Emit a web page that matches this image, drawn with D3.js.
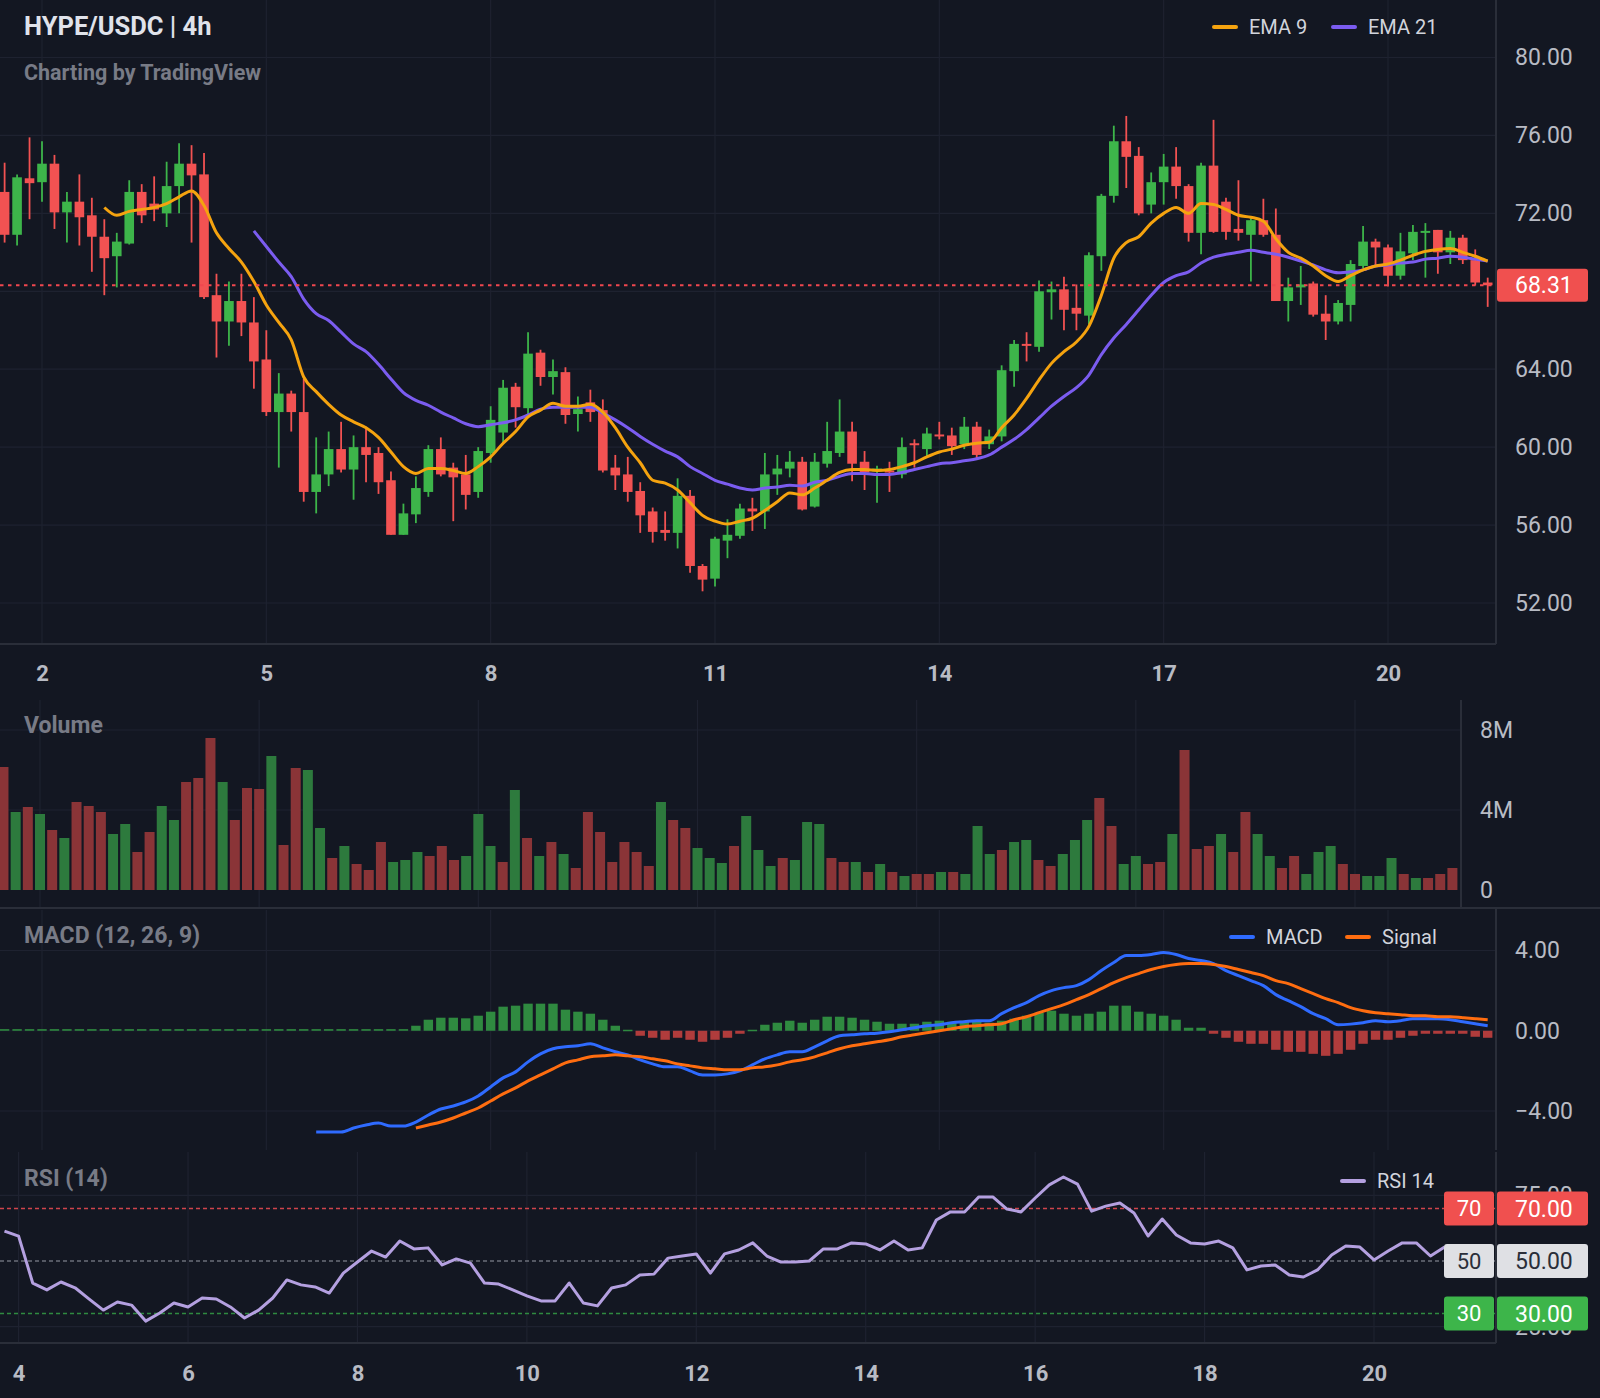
<!DOCTYPE html>
<html>
<head>
<meta charset="utf-8">
<script src="https://cdn.jsdelivr.net/npm/d3@7"></script>
<style>
    html, body { margin: 0; padding: 0; background: #131722; }
    svg { display: block; }
    text { font-family: Roboto, "Liberation Sans", sans-serif; }
</style>
</head>
<body>
<div id="chart"></div>
<script>
// ---- candles (4h), index 0 = day 1 12:00 ----
const priceOpen = [
    73.1, 70.9, 73.8, 73.6, 74.55, 72.05, 72.6, 71.9, 70.8, 69.8, 70.45, 73.1, 72.5,
    72.0, 73.4, 74.55, 74.0, 67.8, 66.45, 67.5, 66.4, 64.5, 61.8,
    62.75, 61.8, 57.7, 58.6, 59.9, 58.85, 60.0, 59.7, 58.3, 55.5,
    56.55, 57.7, 59.9, 58.95, 58.6, 57.7, 59.7, 60.75, 63.1, 62.0,
    64.85, 63.6, 63.85, 61.7, 62.3, 61.9, 58.95, 58.6, 57.75, 56.7,
    55.75, 55.6, 57.5, 53.9, 53.25, 55.2, 55.45, 56.85, 56.7, 58.6,
    58.9, 59.25, 56.95, 59.15, 59.7, 60.8, 59.25, 58.75, 58.8, 58.6,
    60.2, 59.9, 60.65, 60.6, 60.15, 61.05, 60.15, 60.55, 63.9, 65.3,
    65.15, 67.95, 68.1, 67.15, 66.75, 69.8, 72.9, 75.7, 74.95, 72.45,
    73.6, 74.4, 73.4, 71.0, 74.45, 72.6, 71.2, 70.9, 71.65, 70.9,
    67.5, 68.2, 68.4, 66.85, 66.45, 67.3, 69.3, 70.55, 70.25, 68.8,
    69.95, 71.0, 71.15, 70.0, 70.75, 69.6, 68.45
];
const priceHigh = [
    74.6, 74.0, 75.9, 75.7, 75.0, 73.1, 74.0, 72.8, 71.7, 71.0, 73.7, 73.5, 73.9,
    74.65, 75.6, 75.5, 75.1, 68.9, 68.5, 68.9, 67.7, 66.0, 63.8,
    62.9, 63.5, 60.5, 60.8, 61.3, 60.6, 61.05, 60.0, 58.75, 57.1,
    58.5, 60.1, 60.5, 59.2, 59.6, 60.0, 62.1, 63.45, 63.3, 65.9,
    65.0, 64.5, 64.1, 62.6, 62.95, 62.45, 59.6, 59.5, 58.2, 56.9,
    56.7, 58.4, 57.8, 54.0, 55.4, 56.3, 57.1, 57.4, 59.7, 59.6,
    59.8, 59.5, 59.7, 61.3, 62.45, 61.3, 59.8, 59.05, 59.25, 60.5,
    60.4, 61.0, 61.3, 61.0, 61.55, 61.3, 60.9, 64.2, 65.5, 65.9,
    68.55, 68.5, 68.75, 68.35, 70.0, 73.0, 76.5, 77.0, 75.4, 74.1,
    75.05, 75.4, 73.5, 74.6, 76.8, 72.8, 73.7, 71.75, 72.75, 72.25,
    68.7, 69.3, 68.5, 67.8, 67.55, 69.6, 71.35, 70.7, 70.4, 71.0,
    71.4, 71.5, 71.15, 71.1, 70.9, 70.15, 68.7
];
const priceLow = [
    70.5, 70.35, 71.7, 72.6, 71.2, 70.5, 70.35, 69.0, 67.8, 68.2, 70.4, 71.5, 71.6,
    71.3, 72.0, 70.5, 67.6, 64.6, 65.2, 65.7, 63.0, 61.6, 58.95,
    60.8, 57.2, 56.6, 58.0, 58.7, 57.3, 58.2, 57.6, 55.5, 55.5,
    56.1, 57.45, 58.5, 56.2, 56.8, 57.4, 59.2, 60.2, 61.0, 61.65,
    63.15, 62.7, 61.2, 60.8, 61.3, 58.7, 57.8, 57.2, 55.6, 55.1,
    55.2, 54.8, 53.55, 52.6, 52.85, 54.3, 55.3, 55.7, 55.8, 57.55,
    58.45, 56.75, 56.9, 58.95, 59.5, 58.25, 57.8, 57.15, 57.7, 58.4,
    58.95, 59.5, 60.4, 59.6, 59.9, 59.4, 59.9, 60.3, 63.1, 64.4,
    64.9, 66.55, 66.0, 66.0, 66.3, 69.05, 72.55, 73.3, 71.9, 72.0,
    72.45, 72.75, 70.55, 69.9, 71.0, 70.65, 70.6, 68.5, 70.8, 67.5,
    66.45, 67.3, 66.7, 65.5, 66.3, 66.45, 69.2, 69.3, 68.25, 68.6,
    69.6, 68.7, 68.9, 69.4, 69.4, 68.3, 67.2
];
const priceClose = [
    70.9, 73.85, 73.55, 74.55, 72.05, 72.6, 71.8, 70.8, 69.7, 70.55, 73.1, 71.9, 72.2,
    73.4, 74.55, 73.95, 67.7, 66.45, 67.5, 66.4, 64.4, 61.8, 62.75,
    61.8, 57.7, 58.6, 59.9, 58.85, 60.0, 59.6, 58.2, 55.5, 56.6,
    57.9, 59.9, 58.6, 58.45, 57.55, 59.8, 61.4, 63.05, 62.05, 64.8,
    63.6, 63.9, 61.65, 61.95, 61.8, 58.8, 58.55, 57.7, 56.5, 55.65,
    55.6, 57.5, 53.9, 53.2, 55.3, 55.5, 56.85, 56.7, 58.6, 58.9,
    59.25, 56.8, 59.25, 59.8, 60.8, 59.15, 58.7, 58.9, 58.7, 60.0,
    60.1, 60.7, 60.55, 60.05, 61.05, 59.6, 60.55, 63.95, 65.3, 65.2,
    68.0, 68.1, 67.05, 66.85, 69.85, 72.9, 75.7, 74.9, 72.0, 73.6,
    74.4, 73.4, 71.0, 74.45, 71.05, 71.05, 71.0, 71.65, 70.9, 67.5,
    68.2, 68.35, 66.8, 66.45, 67.4, 69.4, 70.55, 70.25, 68.8, 70.05,
    71.05, 71.1, 70.0, 70.75, 69.6, 68.45, 68.31
];
const lastPrice = 68.31;

// EMA 9 starts at candle 8, EMA 21 at candle 20
const ema9Start = 8;
const ema9 = [
    72.3, 71.9, 72.1, 72.2, 72.3,
    72.5, 72.85, 73.15, 72.4, 71.0, 70.2, 69.5, 68.5, 67.3, 66.4,
    65.5, 63.6, 62.85, 62.2, 61.65, 61.3, 61.0, 60.5, 59.75, 59.0,
    58.65, 58.9, 58.9, 58.8, 58.65, 59.0, 59.5, 60.2, 60.8, 61.55,
    61.9, 62.25, 62.1, 62.1, 62.2, 61.8, 61.0, 60.0, 59.2, 58.3,
    58.15, 57.8, 57.15, 56.5, 56.2, 56.05, 56.2, 56.35, 56.75, 57.2,
    57.65, 57.55, 57.9, 58.3, 58.7, 58.85, 58.85, 58.8, 58.85, 59.0,
    59.2, 59.5, 59.75, 59.9, 60.1, 60.2, 60.25, 61.0, 61.65, 62.5,
    63.45, 64.3, 64.9, 65.4, 66.2, 67.8, 69.7, 70.5, 70.8, 71.5,
    72.0, 72.3, 72.0, 72.5, 72.45, 72.2, 71.9, 71.8, 71.6, 70.7,
    70.0, 69.7, 69.3, 68.8, 68.5, 68.8, 69.1, 69.3, 69.4, 69.6,
    69.85, 70.05, 70.15, 70.2, 70.0, 69.8, 69.55
];
const ema21Start = 20;
const ema21 = [
    71.1, 70.3, 69.5,
    68.75, 67.6, 66.85, 66.5, 65.9, 65.3, 64.9, 64.25, 63.5, 62.8,
    62.4, 62.15, 61.8, 61.5, 61.2, 61.05, 61.15, 61.25, 61.4, 61.65,
    61.95, 62.05, 62.05, 62.05, 62.05, 61.75, 61.4, 61.0, 60.55, 60.15,
    59.8, 59.5, 59.0, 58.65, 58.3, 58.1, 57.9, 57.8, 57.9, 57.95,
    58.05, 58.0, 58.2, 58.3, 58.5, 58.65, 58.65, 58.6, 58.6, 58.7,
    58.85, 59.0, 59.15, 59.2, 59.3, 59.4, 59.6, 60.0, 60.4, 60.9,
    61.5, 62.1, 62.6, 63.05, 63.7, 64.75, 65.6, 66.3, 67.05, 67.8,
    68.45, 68.8, 69.0, 69.45, 69.75, 69.9, 70.0, 70.1, 70.0, 69.9,
    69.75, 69.55, 69.35, 69.1, 68.95, 69.0, 69.1, 69.3, 69.35, 69.45,
    69.5, 69.65, 69.7, 69.8, 69.75, 69.65, 69.55
];

// volume in millions, one per candle
const volumeM = [
    6.15, 3.9, 4.15, 3.8, 3.0, 2.6, 4.4, 4.2, 3.9, 2.8, 3.3, 1.9, 2.9,
    4.2, 3.5, 5.4, 5.6, 7.6, 5.4, 3.5, 5.1, 5.05, 6.7,
    2.25, 6.1, 6.0, 3.1, 1.6, 2.2, 1.3, 1.0, 2.4, 1.4,
    1.5, 1.9, 1.7, 2.2, 1.5, 1.7, 3.8, 2.2, 1.4, 5.0,
    2.6, 1.7, 2.4, 1.8, 1.1, 3.9, 2.9, 1.4, 2.4, 1.9,
    1.2, 4.4, 3.5, 3.1, 2.1, 1.6, 1.35, 2.2, 3.7, 2.0,
    1.2, 1.6, 1.5, 3.4, 3.3, 1.6, 1.4, 1.4, 0.9, 1.3,
    0.9, 0.7, 0.8, 0.8, 0.9, 0.9, 0.8, 3.2, 1.8, 2.0,
    2.4, 2.5, 1.5, 1.2, 1.8, 2.5, 3.5, 4.6, 3.2, 1.3,
    1.7, 1.3, 1.4, 2.8, 7.0, 2.05, 2.2, 2.8, 1.9, 3.9,
    2.8, 1.7, 1.1, 1.7, 0.8, 1.9, 2.2, 1.3, 0.8, 0.7,
    0.7, 1.6, 0.8, 0.6, 0.6, 0.8, 1.1
];

// MACD (12, 26, 9)
const macdStart = 25;
const macdLine = [
    -5.05, -5.05, -5.05, -4.85, -4.7, -4.6, -4.75, -4.75,
    -4.55, -4.2, -3.9, -3.75, -3.55, -3.25, -2.8, -2.35, -2.05, -1.55,
    -1.15, -0.9, -0.8, -0.75, -0.65, -0.85, -1.05, -1.2, -1.45, -1.65,
    -1.8, -1.8, -2.0, -2.2, -2.2, -2.15, -2.0, -1.7, -1.4, -1.2,
    -1.05, -1.05, -0.8, -0.5, -0.25, -0.2, -0.15, -0.12, -0.05, 0.05,
    0.15, 0.25, 0.3, 0.4, 0.45, 0.5, 0.5, 0.85, 1.15, 1.4,
    1.75, 2.0, 2.15, 2.25, 2.55, 3.0, 3.4, 3.75, 3.75, 3.8,
    3.9, 3.8, 3.6, 3.5, 3.35, 3.0, 2.75, 2.5, 2.25, 1.8,
    1.5, 1.2, 0.85, 0.6, 0.3, 0.33, 0.4, 0.5, 0.45, 0.5,
    0.6, 0.6, 0.6, 0.55, 0.45, 0.35, 0.25
];
const signalStart = 33;
const signalLine = [
    -4.85, -4.7, -4.55, -4.35, -4.1, -3.85, -3.5, -3.15, -2.85, -2.5,
    -2.2, -1.9, -1.6, -1.45, -1.3, -1.25, -1.2, -1.25, -1.3, -1.4,
    -1.5, -1.65, -1.75, -1.85, -1.9, -1.95, -1.95, -1.85, -1.8, -1.7,
    -1.55, -1.45, -1.3, -1.1, -0.9, -0.75, -0.65, -0.55, -0.45, -0.3,
    -0.2, -0.1, 0.0, 0.1, 0.2, 0.25, 0.3, 0.35, 0.55, 0.7,
    0.9, 1.1, 1.3, 1.55, 1.8, 2.1, 2.4, 2.65, 2.85, 3.05,
    3.2, 3.3, 3.35, 3.35, 3.3, 3.2, 3.05, 2.9, 2.75, 2.5,
    2.35, 2.1, 1.85, 1.6, 1.4, 1.15, 1.0, 0.9, 0.85, 0.8,
    0.75, 0.75, 0.7, 0.7, 0.65, 0.6, 0.55
];
const macdHist = [
    0.08, 0.08, 0.08, 0.08, 0.08, 0.08, 0.08, 0.08, 0.08, 0.08, 0.08,
    0.08, 0.08, 0.08, 0.08, 0.08, 0.08, 0.08, 0.08, 0.08, 0.08, 0.08,
    0.08, 0.08, 0.08, 0.08, 0.08, 0.08, 0.08, 0.08, 0.08, 0.08, 0.08,
    0.25, 0.55, 0.65, 0.65, 0.62, 0.75, 0.95, 1.2, 1.25, 1.35,
    1.35, 1.35, 1.05, 0.95, 0.85, 0.55, 0.25, 0.05, -0.25, -0.35,
    -0.45, -0.35, -0.45, -0.55, -0.45, -0.35, -0.15, 0.05, 0.3, 0.4,
    0.5, 0.4, 0.55, 0.7, 0.7, 0.65, 0.55, 0.45, 0.35, 0.35,
    0.35, 0.45, 0.5, 0.45, 0.5, 0.5, 0.4, 0.5, 0.6, 0.75,
    0.9, 1.0, 0.85, 0.75, 0.85, 0.95, 1.25, 1.25, 0.95, 0.85,
    0.75, 0.55, 0.15, 0.15, -0.15, -0.35, -0.55, -0.65, -0.65, -0.95,
    -1.05, -1.05, -1.15, -1.25, -1.15, -0.95, -0.65, -0.45, -0.45, -0.35,
    -0.25, -0.15, -0.15, -0.15, -0.15, -0.3, -0.35
];

// RSI (14), own 4h window, index 0 = day 3 20:00
const rsi14 = [
    61.4, 59.5, 41.6, 39.0, 42.0, 39.8, 35.5, 31.3, 34.4, 33.2,
    27.1, 30.2, 34.0, 32.5, 35.9, 35.5, 32.5, 28.3, 31.3, 35.9,
    42.8, 40.9, 40.1, 37.8, 45.4, 49.6, 53.8, 51.5, 57.6, 54.6,
    55.0, 48.5, 50.8, 49.2, 41.6, 41.2, 39.0, 36.7, 34.8, 34.8,
    41.6, 34.0, 32.9, 39.7, 40.9, 44.7, 45.0, 51.1, 51.9, 52.7,
    45.4, 52.7, 54.2, 56.9, 51.9, 49.6, 49.6, 50.0, 54.6, 54.6,
    56.9, 56.5, 54.2, 57.6, 54.2, 55.0, 65.6, 68.7, 68.7, 74.4,
    74.4, 69.8, 68.7, 74.0, 79.0, 82.0, 79.3, 69.0, 70.9, 72.1,
    68.3, 59.5, 66.0, 59.9, 56.9, 56.5, 57.6, 55.0, 46.6, 48.1,
    48.5, 44.7, 43.9, 46.6, 52.3, 55.7, 55.3, 50.4, 53.8, 56.9,
    56.9, 51.9, 55.3
];

// ticks
const priceGridTicks = [52, 56, 60, 64, 68, 72, 76, 80];
const priceLabelTicks = [52, 56, 60, 64, 72, 76, 80];
const dateTickIdx = [3, 21, 39, 57, 75, 93, 111];
const dateLabels = ["2", "5", "8", "11", "14", "17", "20"];
const volumeTicks = [0, 4, 8];
const volumeLabels = ["0", "4M", "8M"];
const macdTicks = [-4, 0, 4];
const rsiLevels = [70, 50, 30];
const rsiGridTicks = [25, 75];
const rsiTickIdx = [1, 13, 25, 37, 49, 61, 73, 85, 97];
const rsiDateLabels = ["4", "6", "8", "10", "12", "14", "16", "18", "20"];

// colours
const BG = "#131722";
const GRID = "#1e2230";
const BORDER = "#2a2e39";
const AXIS_TEXT = "#b8bbc4";
const MUTED = "#787b86";
const UP = "#3db54a";
const DOWN = "#f25252";

class MarketChart {
    constructor(parentElement) {
        this.parentElement = parentElement;
        this.initVis();
    }

    initVis() {
        let vis = this;
        vis.width = 1600;
        vis.height = 1398;

        vis.svg = d3.select("#" + vis.parentElement).append("svg")
            .attr("width", vis.width)
            .attr("height", vis.height);

        vis.svg.append("rect")
            .attr("width", vis.width)
            .attr("height", vis.height)
            .attr("fill", BG);

        vis.candleIdx = d3.range(priceOpen.length);

        vis.drawPrice();
        vis.drawVolume();
        vis.drawMacd();
        vis.drawRsi();
    }

    // horizontal + vertical grid lines for one panel
    grid(g, yScale, yTicks, xScale, xTicks, x0, x1, y0, y1) {
        g.append("g").selectAll("line")
            .data(yTicks).enter().append("line")
            .attr("x1", x0).attr("x2", x1)
            .attr("y1", d => yScale(d)).attr("y2", d => yScale(d))
            .attr("stroke", GRID).attr("stroke-width", 1.2);
        g.append("g").selectAll("line")
            .data(xTicks).enter().append("line")
            .attr("x1", d => xScale(d)).attr("x2", d => xScale(d))
            .attr("y1", y0).attr("y2", y1)
            .attr("stroke", GRID).attr("stroke-width", 1.2);
    }

    rightAxis(g, scale, ticks, fmt, x) {
        let ax = g.append("g")
            .attr("class", "axis axis-y")
            .attr("transform", `translate(${x}, 0)`)
            .call(d3.axisRight(scale).tickValues(ticks).tickSize(0).tickPadding(0).tickFormat(fmt));
        ax.select(".domain").remove();
        ax.selectAll("text")
            .attr("fill", AXIS_TEXT)
            .style("font-size", "23px");
        return ax;
    }

    bottomAxis(g, scale, ticks, labels, y) {
        let ax = g.append("g")
            .attr("class", "axis axis-x")
            .attr("transform", `translate(0, ${y})`)
            .call(d3.axisBottom(scale).tickValues(ticks).tickSize(0).tickFormat((d, i) => labels[i]));
        ax.select(".domain").remove();
        ax.selectAll("text")
            .attr("y", 0)
            .attr("dy", "0.36em")
            .attr("fill", AXIS_TEXT)
            .style("font-size", "22px")
            .style("font-weight", "bold");
    }

    legend(g, items, y) {
        items.forEach(it => {
            g.append("line")
                .attr("x1", it.x).attr("x2", it.x + 22)
                .attr("y1", y).attr("y2", y)
                .attr("stroke", it.color).attr("stroke-width", 4)
                .attr("stroke-linecap", "round");
            g.append("text")
                .attr("x", it.x + 35).attr("y", y)
                .attr("dy", "0.35em")
                .attr("fill", "#d1d4dc")
                .style("font-size", "20px")
                .text(it.label);
        });
    }

    panelTitle(g, label, y, size) {
        g.append("text")
            .attr("x", 24).attr("y", y)
            .attr("dy", "0.35em")
            .attr("fill", MUTED)
            .style("font-size", size + "px")
            .style("font-weight", "bold")
            .text(label);
    }

    drawPrice() {
        let vis = this;
        let g = vis.svg.append("g").attr("class", "price-panel");

        // init scales
        vis.x = d3.scaleLinear().domain([3, 111]).range([42, 1388]);
        vis.y = d3.scaleLinear().domain([52, 80]).range([603, 57.5]);

        vis.grid(g, vis.y, priceGridTicks, vis.x, dateTickIdx, 0, 1496, 0, 644);

        // candles
        let bodyW = 9.6;
        let candles = g.append("g").attr("class", "candles")
            .selectAll("g").data(vis.candleIdx).enter().append("g");
        candles.append("line")
            .attr("x1", d => vis.x(d)).attr("x2", d => vis.x(d))
            .attr("y1", d => vis.y(priceHigh[d])).attr("y2", d => vis.y(priceLow[d]))
            .attr("stroke", d => priceClose[d] >= priceOpen[d] ? UP : DOWN)
            .attr("stroke-width", 1.8);
        candles.append("rect")
            .attr("x", d => vis.x(d) - bodyW / 2)
            .attr("width", bodyW)
            .attr("y", d => vis.y(Math.max(priceOpen[d], priceClose[d])))
            .attr("height", d => Math.max(2, Math.abs(vis.y(priceOpen[d]) - vis.y(priceClose[d]))))
            .attr("fill", d => priceClose[d] >= priceOpen[d] ? UP : DOWN);

        // EMA lines
        let emaLine = d3.line()
            .x(d => vis.x(d.i))
            .y(d => vis.y(d.v))
            .curve(d3.curveMonotoneX);
        g.append("path")
            .datum(ema21.map((v, k) => ({i: k + ema21Start, v: v})))
            .attr("d", emaLine)
            .attr("fill", "none")
            .attr("stroke", "#7b5cf0")
            .attr("stroke-width", 3);
        g.append("path")
            .datum(ema9.map((v, k) => ({i: k + ema9Start, v: v})))
            .attr("d", emaLine)
            .attr("fill", "none")
            .attr("stroke", "#f5a30f")
            .attr("stroke-width", 3);

        // last price line
        g.append("line")
            .attr("x1", 0).attr("x2", 1496)
            .attr("y1", vis.y(lastPrice)).attr("y2", vis.y(lastPrice))
            .attr("stroke", "#f0474f")
            .attr("stroke-width", 2)
            .attr("stroke-dasharray", "3.5,4.5");

        // borders
        g.append("line").attr("x1", 1496).attr("x2", 1496).attr("y1", 0).attr("y2", 644)
            .attr("stroke", BORDER).attr("stroke-width", 2);
        g.append("line").attr("x1", 0).attr("x2", 1496).attr("y1", 644).attr("y2", 644)
            .attr("stroke", BORDER).attr("stroke-width", 2);

        // axes
        vis.rightAxis(g, vis.y, priceLabelTicks, d3.format(".2f"), 1515);
        vis.bottomAxis(g, vis.x, dateTickIdx, dateLabels, 673);

        // last price badge
        g.append("rect")
            .attr("x", 1497).attr("y", vis.y(lastPrice) - 16.5)
            .attr("width", 91).attr("height", 33).attr("rx", 3)
            .attr("fill", "#f0504f");
        g.append("text")
            .attr("x", 1515).attr("y", vis.y(lastPrice))
            .attr("dy", "0.35em")
            .attr("fill", "#ffffff")
            .style("font-size", "23px")
            .text(lastPrice.toFixed(2));

        // title
        g.append("text")
            .attr("x", 24).attr("y", 26)
            .attr("dy", "0.35em")
            .attr("fill", "#e0e3eb")
            .style("font-size", "25.5px")
            .style("font-weight", "bold")
            .text("HYPE/USDC | 4h");
        vis.panelTitle(g, "Charting by TradingView", 72, 21.5);

        vis.legend(g, [
            {x: 1214, color: "#f5a30f", label: "EMA 9"},
            {x: 1333, color: "#7b5cf0", label: "EMA 21"}
        ], 27);
    }

    drawVolume() {
        let vis = this;
        let g = vis.svg.append("g").attr("class", "volume-panel");

        vis.xVol = d3.scaleLinear().domain([3, 111]).range([40, 1355]);
        vis.yVol = d3.scaleLinear().domain([0, 8]).range([890, 730]);

        vis.grid(g, vis.yVol, [4, 8], vis.xVol, dateTickIdx, 0, 1461, 700, 908);

        let barW = 10;
        g.append("g").selectAll("rect")
            .data(vis.candleIdx).enter().append("rect")
            .attr("x", d => vis.xVol(d) - barW / 2)
            .attr("width", barW)
            .attr("y", d => vis.yVol(volumeM[d]))
            .attr("height", d => vis.yVol(0) - vis.yVol(volumeM[d]))
            .attr("fill", d => priceClose[d] >= priceOpen[d] ? "#2d7a3d" : "#8a3437");

        g.append("line").attr("x1", 1461).attr("x2", 1461).attr("y1", 700).attr("y2", 908)
            .attr("stroke", BORDER).attr("stroke-width", 2);
        g.append("line").attr("x1", 0).attr("x2", 1600).attr("y1", 908).attr("y2", 908)
            .attr("stroke", BORDER).attr("stroke-width", 2);

        vis.rightAxis(g, vis.yVol, volumeTicks, (d, i) => volumeLabels[i], 1480);
        vis.panelTitle(g, "Volume", 725, 23);
    }

    drawMacd() {
        let vis = this;
        let g = vis.svg.append("g").attr("class", "macd-panel");

        vis.yMacd = d3.scaleLinear().domain([-4, 4]).range([1111, 950.5]);

        vis.grid(g, vis.yMacd, macdTicks, vis.x, dateTickIdx, 0, 1496, 910, 1150);

        // histogram
        let barW = 9.4;
        g.append("g").selectAll("rect")
            .data(vis.candleIdx).enter().append("rect")
            .attr("x", d => vis.x(d) - barW / 2)
            .attr("width", barW)
            .attr("y", d => vis.yMacd(Math.max(0, macdHist[d])))
            .attr("height", d => Math.max(1.5, Math.abs(vis.yMacd(macdHist[d]) - vis.yMacd(0))))
            .attr("fill", d => macdHist[d] >= 0 ? "#2f8a40" : "#b03c3c");

        let line = d3.line()
            .x(d => vis.x(d.i))
            .y(d => vis.yMacd(d.v))
            .curve(d3.curveMonotoneX);
        g.append("path")
            .datum(macdLine.map((v, k) => ({i: k + macdStart, v: v})))
            .attr("d", line)
            .attr("fill", "none")
            .attr("stroke", "#2f6bff")
            .attr("stroke-width", 3);
        g.append("path")
            .datum(signalLine.map((v, k) => ({i: k + signalStart, v: v})))
            .attr("d", line)
            .attr("fill", "none")
            .attr("stroke", "#ff6d10")
            .attr("stroke-width", 3);

        g.append("line").attr("x1", 1496).attr("x2", 1496).attr("y1", 908).attr("y2", 1150)
            .attr("stroke", BORDER).attr("stroke-width", 2);

        vis.rightAxis(g, vis.yMacd, macdTicks, d => d3.format(".2f")(d).replace("-", "\u2212"), 1515);
        vis.panelTitle(g, "MACD (12, 26, 9)", 935, 23);
        vis.legend(g, [
            {x: 1231, color: "#2f6bff", label: "MACD"},
            {x: 1347, color: "#ff6d10", label: "Signal"}
        ], 937);
    }

    drawRsi() {
        let vis = this;
        let g = vis.svg.append("g").attr("class", "rsi-panel");

        vis.xRsi = d3.scaleLinear().domain([1, 97]).range([18.6, 1374]);
        vis.yRsi = d3.scaleLinear().domain([30, 70]).range([1313.5, 1208.5]);

        vis.grid(g, vis.yRsi, rsiGridTicks, vis.xRsi, rsiTickIdx, 0, 1496, 1152, 1343);

        // level lines
        let levelColor = {70: "#d0444c", 50: "#6b6f7a", 30: "#2f8a40"};
        g.append("g").selectAll("line")
            .data(rsiLevels).enter().append("line")
            .attr("x1", 0).attr("x2", 1496)
            .attr("y1", d => vis.yRsi(d)).attr("y2", d => vis.yRsi(d))
            .attr("stroke", d => levelColor[d])
            .attr("stroke-width", 1.6)
            .attr("stroke-dasharray", "4,3");

        g.append("path")
            .datum(rsi14)
            .attr("d", d3.line().x((d, i) => vis.xRsi(i)).y(d => vis.yRsi(d)))
            .attr("fill", "none")
            .attr("stroke", "#b4a0e0")
            .attr("stroke-width", 3)
            .attr("stroke-linejoin", "round");

        g.append("line").attr("x1", 1496).attr("x2", 1496).attr("y1", 1152).attr("y2", 1343)
            .attr("stroke", BORDER).attr("stroke-width", 2);
        g.append("line").attr("x1", 0).attr("x2", 1496).attr("y1", 1343).attr("y2", 1343)
            .attr("stroke", BORDER).attr("stroke-width", 2);

        // 75 / 25 labels sit mostly behind the level badges, as in the source
        vis.rightAxis(g, vis.yRsi, rsiGridTicks, d3.format(".2f"), 1515);
        vis.bottomAxis(g, vis.xRsi, rsiTickIdx, rsiDateLabels, 1373);

        // level badges
        let badgeFill = {70: "#f0504f", 50: "#dfe0e4", 30: "#3db54a"};
        let badgeText = {70: "#ffffff", 50: "#2a2e39", 30: "#ffffff"};
        let badges = g.append("g").selectAll("g")
            .data(rsiLevels).enter().append("g");
        badges.append("rect")
            .attr("x", 1444).attr("y", d => vis.yRsi(d) - 17)
            .attr("width", 50).attr("height", 34).attr("rx", 3)
            .attr("fill", d => badgeFill[d]);
        badges.append("rect")
            .attr("x", 1497).attr("y", d => vis.yRsi(d) - 17)
            .attr("width", 91).attr("height", 34).attr("rx", 3)
            .attr("fill", d => badgeFill[d]);
        badges.append("text")
            .attr("x", 1469).attr("y", d => vis.yRsi(d))
            .attr("dy", "0.35em")
            .attr("text-anchor", "middle")
            .attr("fill", d => badgeText[d])
            .style("font-size", "22px")
            .text(d => d);
        badges.append("text")
            .attr("x", 1515).attr("y", d => vis.yRsi(d))
            .attr("dy", "0.35em")
            .attr("fill", d => badgeText[d])
            .style("font-size", "23px")
            .text(d => d.toFixed(2));

        vis.panelTitle(g, "RSI (14)", 1178, 23);
        vis.legend(g, [{x: 1342, color: "#b4a0e0", label: "RSI 14"}], 1181);
    }
}

new MarketChart("chart");
</script>
</body>
</html>
